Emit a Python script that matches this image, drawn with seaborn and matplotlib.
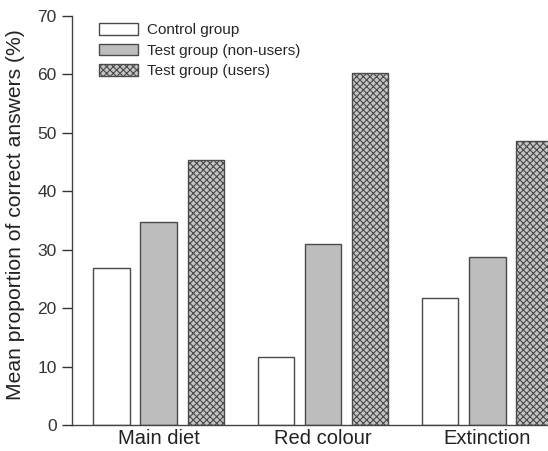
import matplotlib
matplotlib.use('Agg')
import matplotlib.pyplot as plt
import seaborn as sns
import pandas as pd

# Values (mean % correct answers)
questions = ['Main diet', 'Red colour', 'Extinction']
groups = ['Control group', 'Test group (non-users)', 'Test group (users)']
control = [26.9, 11.6, 21.7]
non_users = [34.8, 31.0, 28.8]
users = [45.3, 60.3, 48.6]

df = pd.DataFrame({
    'question': questions * 3,
    'group': [groups[0]] * 3 + [groups[1]] * 3 + [groups[2]] * 3,
    'value': control + non_users + users,
})

sns.set_theme(style='ticks')
plt.rcParams['font.family'] = ['Liberation Sans', 'DejaVu Sans']
plt.rcParams['hatch.color'] = '#4a4a4a'
plt.rcParams['hatch.linewidth'] = 0.8

fig = plt.figure(figsize=(5.48, 4.51), dpi=100)
ax = fig.add_axes([72 / 548, 1 - 425 / 451, 1 - 72 / 548, 409 / 451])

palette = {groups[0]: 'white', groups[1]: '#bdbdbd', groups[2]: '#c4c4c4'}
sns.barplot(data=df, x='question', y='value', hue='group', order=questions,
            hue_order=groups, palette=palette, width=0.86, gap=0.23,
            edgecolor='#4a4a4a', linewidth=1.0, saturation=1, ax=ax)

for bar in ax.containers[2]:
    bar.set_hatch('xxxxx')

ax.set_xlim(-0.526, 2.368)
ax.set_ylim(0, 70)
ax.set_yticks(range(0, 71, 10))
ax.set_xlabel('')
ax.set_ylabel('Mean proportion of correct answers (%)', fontsize=15.2,
              color='#222222')
ax.yaxis.set_label_coords(-0.099, 0.515)
ax.tick_params(axis='y', direction='out', length=7, width=1, labelsize=12.5,
               colors='#333333', pad=4)
ax.tick_params(axis='x', length=0, labelsize=14.5, pad=3)
for lab in ax.get_xticklabels():
    lab.set_color('#222222')
sns.despine(ax=ax)
for s in ['left', 'bottom']:
    ax.spines[s].set_color('#444444')
    ax.spines[s].set_linewidth(1.0)

handles, labels = ax.get_legend_handles_labels()
handles[2].set_hatch('xxxxx')
ax.legend(handles, labels, loc='upper left', bbox_to_anchor=(99 / 548, 1 - 23 / 451),
          bbox_transform=fig.transFigure, frameon=False, fontsize=11,
          handlelength=2.55, handleheight=0.8, labelspacing=0.42,
          handletextpad=0.6, borderpad=0, borderaxespad=0)

fig.savefig('out.png', dpi=100)
